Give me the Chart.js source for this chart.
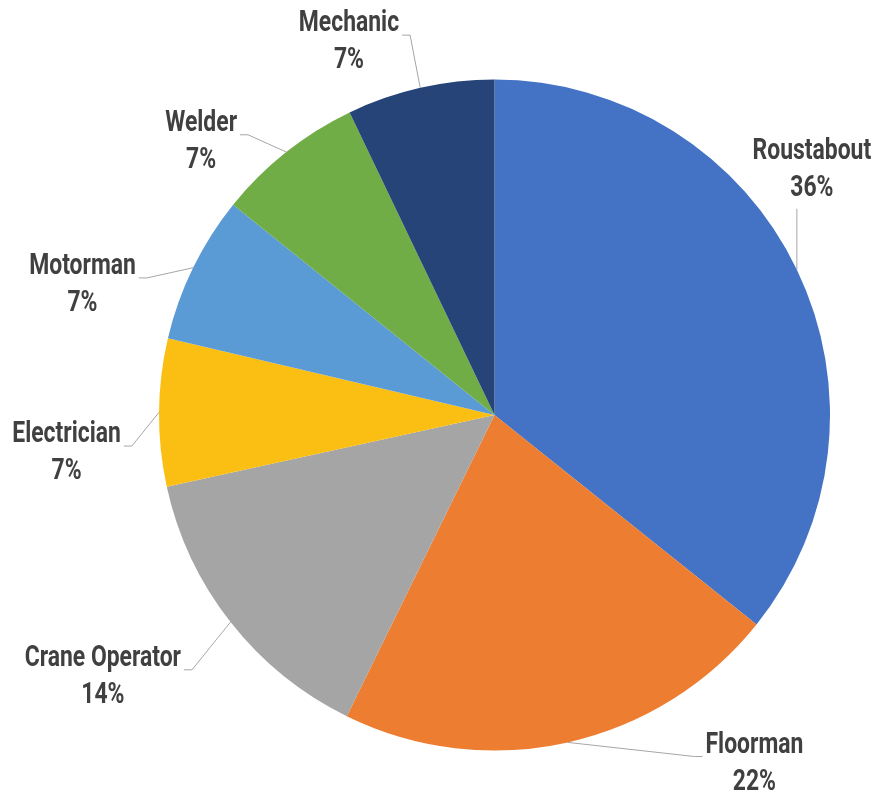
<!DOCTYPE html>
<html>
<head>
<meta charset="utf-8">
<title>Crew by role</title>
<script src="https://cdn.jsdelivr.net/npm/chart.js@4"></script>
<style>
    html, body { margin: 0; padding: 0; background: #fff; }
    #wrap { width: 888px; height: 795px; position: relative; }
</style>
</head>
<body>
<div id="wrap"><canvas id="roleChart"></canvas></div>
<script>
// Data
const categories = ['Roustabout', 'Floorman', 'Crane Operator', 'Electrician', 'Motorman', 'Welder', 'Mechanic'];
const shares = [35.7, 21.5, 14.3, 7.1, 7.1, 7.1, 7.1];
const sliceColors = ['#4472C4', '#ED7D31', '#A5A5A5', '#FBBF13', '#5B9BD5', '#70AD47', '#264478'];

// Where each label sits: angle nudge (deg) from the slice middle, distance as a multiple of the radius
const labelNudge = [-12.3, -24.3, 4.6, -5.2, -8.2, -8.4, -8.4];
const labelDistance = [1.2, 1.29, 1.4, 1.28, 1.29, 1.2, 1.2];

// No condensed font is installed, so squeeze a bold face horizontally
const LABEL_FONT = 'bold 29px Roboto, "DejaVu Sans", sans-serif';
const SQUEEZE = 0.79;
const LINE_GAP = 37;
const TEXT_SHIFT = 3;

/**
 * Draws the outside labels with their leader lines, Excel "best fit" style.
 */
const outsideLabels = {
    id: 'outsideLabels',
    afterDatasetsDraw(chart) {
        const ctx = chart.ctx;
        const meta = chart.getDatasetMeta(0);
        const data = chart.data.datasets[0].data;
        const total = data.reduce((a, b) => a + b, 0);

        ctx.save();
        ctx.font = LABEL_FONT;
        ctx.textAlign = 'center';
        ctx.textBaseline = 'middle';

        const drawText = (text, tx, ty) => {
            ctx.save();
            ctx.translate(tx, ty);
            ctx.scale(SQUEEZE, 1);
            ctx.fillText(text, 0, 0);
            ctx.restore();
        };

        meta.data.forEach((arc, i) => {
            const { x, y, startAngle, endAngle, outerRadius } = arc.getProps(['x', 'y', 'startAngle', 'endAngle', 'outerRadius'], true);
            const mid = (startAngle + endAngle) / 2;
            const px = x + outerRadius * Math.cos(mid);
            const py = y + outerRadius * Math.sin(mid);

            const a = mid + labelNudge[i] * Math.PI / 180;
            const lx = x + outerRadius * labelDistance[i] * Math.cos(a);
            const ly = y + outerRadius * labelDistance[i] * Math.sin(a) + TEXT_SHIFT;

            const name = chart.data.labels[i];
            const pct = Math.round(data[i] / total * 100) + '%';
            const nameWidth = ctx.measureText(name).width * SQUEEZE;
            const line1 = ly - LINE_GAP / 2;
            const line2 = ly + LINE_GAP / 2;
            const left = lx - nameWidth / 2;
            const right = lx + nameWidth / 2;
            const bottom = line2 + 14;

            // leader line
            ctx.strokeStyle = '#A6A6A6';
            ctx.lineWidth = 1;
            ctx.beginPath();
            if (px > left && px < right && py > bottom) {
                ctx.moveTo(px, bottom + 6);
                ctx.lineTo(px, py);
            } else {
                const ky = line1 + 11;
                const side = px >= right ? 1 : -1;
                const kx = side > 0 ? right + 3 : left - 3;
                ctx.moveTo(kx, ky);
                ctx.lineTo(kx + side * 8, ky);
                ctx.lineTo(px, py);
            }
            ctx.stroke();

            ctx.fillStyle = '#404040';
            drawText(name, lx, line1);
            drawText(pct, lx, line2);
        });
        ctx.restore();
    }
};

function initializeRoleChart() {
    const canvas = document.getElementById('roleChart');
    new Chart(canvas, {
        type: 'pie',
        data: {
            labels: categories,
            datasets: [{
                data: shares,
                backgroundColor: sliceColors,
                borderWidth: 0
            }]
        },
        options: {
            responsive: true,
            maintainAspectRatio: false,
            animation: false,
            layout: {
                padding: { top: 79, bottom: 44, left: 159, right: 58 }
            },
            plugins: {
                legend: { display: false },
                tooltip: { enabled: false }
            }
        },
        plugins: [outsideLabels]
    });
}

document.addEventListener('DOMContentLoaded', initializeRoleChart);
</script>
</body>
</html>
